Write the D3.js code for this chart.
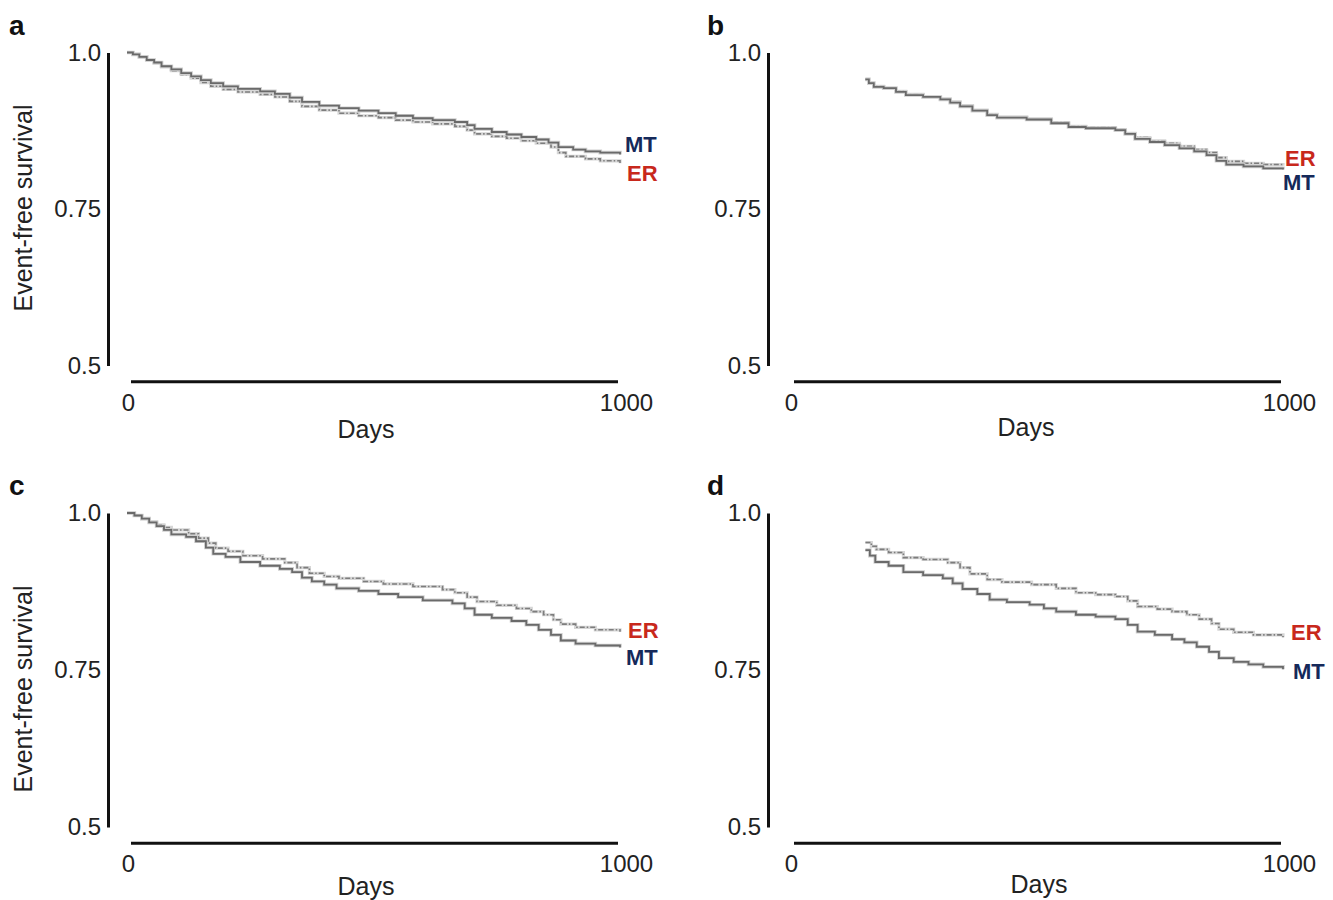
<!DOCTYPE html>
<html>
<head>
<meta charset="utf-8">
<script src="https://cdn.jsdelivr.net/npm/d3@7"></script>
<style>
  body { margin: 0; background: #fff; }
  svg text { font-family: "Liberation Sans", Arial, Helvetica, sans-serif; }
</style>
</head>
<body>
<svg id="chart" width="1333" height="900"></svg>
<script>
// axis ticks shared by all four panels
var yTicks = [0.5, 0.75, 1.0];
var yTickLabels = ["0.5", "0.75", "1.0"];
var xTicks = [0, 1000];
var xTickLabels = ["0", "1000"];

// Kaplan-Meier steps: [day, event-free survival]
var aMT = [[0,1.000],[12,0.997],[25,0.993],[40,0.988],[55,0.984],[70,0.978],[90,0.973],[110,0.967],[130,0.962],[150,0.956],[170,0.951],[195,0.946],[225,0.942],[270,0.938],[300,0.934],[330,0.928],[355,0.921],[390,0.915],[430,0.911],[470,0.907],[510,0.903],[545,0.899],[580,0.895],[620,0.892],[665,0.889],[690,0.884],[705,0.878],[740,0.873],[770,0.869],[800,0.865],[830,0.861],[855,0.856],[875,0.849],[905,0.845],[930,0.842],[960,0.840],[1000,0.837]];
var aER = [[0,1.000],[12,0.997],[25,0.993],[40,0.988],[55,0.983],[70,0.977],[90,0.971],[110,0.965],[130,0.959],[150,0.952],[170,0.946],[195,0.941],[225,0.937],[270,0.933],[300,0.929],[330,0.922],[355,0.914],[390,0.908],[430,0.903],[470,0.899],[510,0.896],[545,0.892],[580,0.889],[620,0.886],[665,0.882],[690,0.876],[705,0.870],[740,0.866],[770,0.863],[800,0.859],[830,0.855],[860,0.849],[875,0.840],[890,0.834],[930,0.830],[960,0.827],[1000,0.823]];

var bMT = [[153,0.957],[160,0.951],[170,0.945],[190,0.943],[215,0.937],[235,0.932],[270,0.929],[305,0.925],[325,0.920],[345,0.914],[370,0.907],[400,0.900],[420,0.896],[480,0.893],[530,0.887],[565,0.881],[600,0.879],[660,0.876],[680,0.870],[700,0.862],[730,0.857],[760,0.852],[790,0.847],[820,0.842],[845,0.836],[865,0.827],[885,0.821],[920,0.818],[960,0.815],[1000,0.813]];
var bER = [[153,0.957],[160,0.951],[170,0.946],[190,0.943],[215,0.938],[235,0.933],[270,0.929],[305,0.926],[325,0.921],[345,0.915],[370,0.908],[400,0.901],[420,0.897],[480,0.894],[530,0.888],[565,0.882],[600,0.880],[660,0.877],[680,0.871],[700,0.864],[730,0.859],[760,0.855],[790,0.850],[820,0.845],[845,0.840],[865,0.832],[885,0.826],[920,0.823],[960,0.821],[1000,0.819]];

var cMT = [[0,1.000],[15,0.996],[30,0.991],[45,0.985],[60,0.979],[75,0.973],[90,0.966],[120,0.962],[140,0.955],[160,0.945],[175,0.935],[200,0.930],[230,0.922],[270,0.916],[310,0.911],[335,0.906],[355,0.897],[375,0.891],[400,0.886],[425,0.880],[470,0.876],[510,0.871],[550,0.866],[600,0.861],[660,0.856],[685,0.848],[705,0.838],[740,0.833],[780,0.828],[810,0.822],[835,0.814],[860,0.806],[880,0.797],[910,0.792],[950,0.789],[1000,0.786]];
var cER = [[0,1.000],[15,0.996],[30,0.991],[45,0.986],[60,0.981],[75,0.977],[90,0.973],[125,0.967],[145,0.960],[165,0.952],[180,0.944],[205,0.939],[235,0.932],[275,0.927],[320,0.921],[345,0.913],[370,0.904],[400,0.899],[430,0.896],[480,0.891],[520,0.887],[580,0.883],[640,0.878],[665,0.873],[690,0.866],[710,0.859],[750,0.853],[790,0.848],[820,0.843],[845,0.838],[865,0.830],[880,0.823],[910,0.818],[950,0.814],[1000,0.811]];

var dMT = [[153,0.941],[162,0.932],[173,0.922],[200,0.916],[230,0.906],[270,0.901],[310,0.896],[330,0.888],[350,0.879],[380,0.871],[405,0.862],[440,0.858],[486,0.854],[515,0.848],[540,0.843],[580,0.838],[620,0.835],[660,0.831],[685,0.822],[705,0.811],[740,0.806],[775,0.799],[800,0.794],[825,0.787],[850,0.779],[870,0.769],[900,0.763],[930,0.759],[960,0.755],[1000,0.751]];
var dER = [[153,0.953],[165,0.947],[175,0.942],[200,0.937],[230,0.929],[270,0.926],[320,0.921],[345,0.913],[365,0.903],[400,0.894],[430,0.890],[490,0.886],[540,0.880],[580,0.873],[620,0.870],[660,0.867],[685,0.860],[705,0.851],[745,0.847],[775,0.843],[805,0.838],[830,0.831],[855,0.824],[870,0.815],[900,0.810],[940,0.806],[1000,0.802]];

var svg = d3.select('#chart');

// 每个面板的位置 (pixel layout only)
var panels = [
    {letter: 'a', mt: aMT, er: aER, x0: 127, x1: 620, yTop: 52.5, yBot: 365.5, yAxisX: 108, xAxisY: 381.7,
     title: true, titleY: 208, daysX: 366, daysY: 438, mtDy: -10, erDy: 10, mtDx: 5, erDx: 7},
    {letter: 'b', mt: bMT, er: bER, x0: 790, x1: 1283, yTop: 52.5, yBot: 365.5, yAxisX: 768, xAxisY: 381.7,
     title: false, daysX: 1026, daysY: 436, mtDy: 13, erDy: -8, mtDx: 0, erDx: 2},
    {letter: 'c', mt: cMT, er: cER, x0: 127, x1: 620, yTop: 513, yBot: 827, yAxisX: 108, xAxisY: 843.3,
     title: true, titleY: 689, daysX: 366, daysY: 895, mtDy: 10, erDy: -2, mtDx: 6, erDx: 8},
    {letter: 'd', mt: dMT, er: dER, x0: 790, x1: 1283, yTop: 513, yBot: 827, yAxisX: 768, xAxisY: 843.3,
     title: false, daysX: 1039, daysY: 893, mtDy: 2, erDy: -5, mtDx: 10, erDx: 8}
];

var drawPanel = function (p) {
    var g = svg.append('g');
    var x = d3.scaleLinear().domain([0, 1000]).range([p.x0, p.x1]);
    var y = d3.scaleLinear().domain([0.5, 1.0]).range([p.yBot, p.yTop]);

    // y轴
    var yAxis = d3.axisLeft(y)
        .tickValues(yTicks)
        .tickFormat(function (d, i) { return yTickLabels[i]; })
        .tickSize(0)
        .tickPadding(7);
    var gy = g.append('g').attr('transform', 'translate(' + p.yAxisX + ',0)').call(yAxis);
    gy.select('.domain').attr('stroke', '#111').attr('stroke-width', 3);
    gy.selectAll('text').attr('font-size', 24).attr('fill', '#222').attr('font-family', null);

    // x轴
    var xAxis = d3.axisBottom(x)
        .tickValues(xTicks)
        .tickFormat(function (d, i) { return xTickLabels[i]; })
        .tickSize(0)
        .tickPadding(12);
    var gx = g.append('g').attr('transform', 'translate(0,' + p.xAxisY + ')').call(xAxis);
    gx.select('.domain').attr('stroke', '#111').attr('stroke-width', 3)
        .attr('d', 'M' + (p.x0 + 4) + ',0H' + (p.x1 - 2));
    gx.selectAll('text').attr('font-size', 24).attr('fill', '#222').attr('font-family', null)
        .attr('dx', function (d) { return d === 1000 ? 6 : 1; });

    g.append('text')
        .attr('x', p.daysX).attr('y', p.daysY)
        .attr('text-anchor', 'middle')
        .attr('font-size', 25).attr('fill', '#222')
        .text('Days');

    if (p.title) {
        g.append('text')
            .attr('transform', 'translate(32,' + p.titleY + ') rotate(-90)')
            .attr('text-anchor', 'middle')
            .attr('font-size', 25).attr('fill', '#222')
            .text('Event-free survival');
    }

    // panel letter
    g.append('text')
        .attr('x', p.letter === 'a' || p.letter === 'c' ? 9 : 707)
        .attr('y', p.yTop - 18)
        .attr('font-size', 28).attr('font-weight', 'bold').attr('fill', '#111')
        .text(p.letter);

    var line = d3.line()
        .x(function (d) { return x(d[0]); })
        .y(function (d) { return y(d[1]); })
        .curve(d3.curveStepAfter);

    // ER: dashed-dotted, lighter
    g.append('path').datum(p.er).attr('d', line)
        .attr('fill', 'none').attr('stroke', '#d6d6d6').attr('stroke-width', 3.2);
    g.append('path').datum(p.er).attr('d', line)
        .attr('fill', 'none').attr('stroke', '#7d7d7d').attr('stroke-width', 1.6)
        .attr('stroke-dasharray', '5,2,1.5,2');

    // MT: solid
    g.append('path').datum(p.mt).attr('d', line)
        .attr('fill', 'none').attr('stroke', '#cfcfcf').attr('stroke-width', 3.6);
    g.append('path').datum(p.mt).attr('d', line)
        .attr('fill', 'none').attr('stroke', '#6a6a6a').attr('stroke-width', 1.8);

    // 曲线末端标签
    var mtEnd = p.mt[p.mt.length - 1], erEnd = p.er[p.er.length - 1];
    g.append('text')
        .attr('x', x(mtEnd[0]) + p.mtDx).attr('y', y(mtEnd[1]) + p.mtDy)
        .attr('dy', '0.36em')
        .attr('font-size', 22).attr('font-weight', 'bold').attr('fill', '#15295a')
        .text('MT');
    g.append('text')
        .attr('x', x(erEnd[0]) + p.erDx).attr('y', y(erEnd[1]) + p.erDy)
        .attr('dy', '0.36em')
        .attr('font-size', 22).attr('font-weight', 'bold').attr('fill', '#c8281c')
        .text('ER');
};

panels.forEach(drawPanel);
</script>
</body>
</html>
